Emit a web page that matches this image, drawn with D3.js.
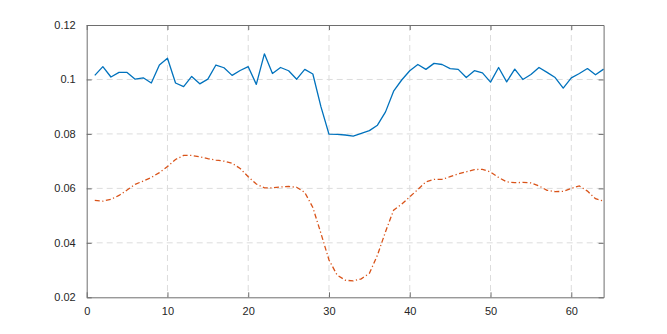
<!DOCTYPE html>
<html>
<head>
<meta charset="utf-8">
<script src="https://cdn.jsdelivr.net/npm/d3@7"></script>
<style>
  body { margin: 0; background: #fff; }
  text { font-family: "Liberation Sans", Arial, sans-serif; font-size: 11px; fill: #262626; }
</style>
</head>
<body>
<svg id="chart" width="667" height="334"></svg>
<script>
// sample index 1..64
var xs = d3.range(1, 65);

var blueVals = [
  0.1015, 0.1047, 0.1009, 0.1026, 0.1026, 0.1001, 0.1006, 0.0987, 0.1053, 0.1078,
  0.0987, 0.0974, 0.1011, 0.0984, 0.1001, 0.1053, 0.1043, 0.1015, 0.1033, 0.1047,
  0.0982, 0.1094, 0.1022, 0.1044, 0.1032, 0.1001, 0.1037, 0.1020, 0.0900, 0.0799,
  0.0798, 0.0796, 0.0792, 0.0802, 0.0812, 0.0832, 0.0881, 0.0957, 0.0998, 0.1032,
  0.1055, 0.1037, 0.1059, 0.1055, 0.1040, 0.1037, 0.1007, 0.1032, 0.1024, 0.0990,
  0.1044, 0.0991, 0.1038, 0.1000, 0.1018, 0.1044, 0.1026, 0.1007, 0.0968, 0.1006,
  0.1022, 0.1040, 0.1017, 0.1038
];

var orangeVals = [
  0.0556, 0.0553, 0.0560, 0.0574, 0.0594, 0.0615, 0.0627, 0.0640, 0.0658, 0.0680,
  0.0706, 0.0721, 0.0721, 0.0716, 0.0709, 0.0704, 0.0700, 0.0692, 0.0673, 0.0643,
  0.0616, 0.0602, 0.0602, 0.0605, 0.0607, 0.0604, 0.0585, 0.0530, 0.0435, 0.0337,
  0.0282, 0.0263, 0.0260, 0.0268, 0.0288, 0.0355, 0.0441, 0.0520, 0.0542, 0.0569,
  0.0596, 0.0624, 0.0633, 0.0633, 0.0643, 0.0653, 0.0661, 0.0669, 0.0670, 0.0660,
  0.0640, 0.0624, 0.0621, 0.0622, 0.0620, 0.0609, 0.0593, 0.0588, 0.0589, 0.0600,
  0.0609, 0.0590, 0.0562, 0.0553
];

var xTicks = [0, 10, 20, 30, 40, 50, 60];
var yTicks = [0.02, 0.04, 0.06, 0.08, 0.1, 0.12];

var svg = d3.select("#chart");
var mLeft = 86.7, mRight = 603.6, mTop = 25, mBottom = 297.3;

var x = d3.scaleLinear().domain([0, 64]).range([mLeft, mRight]);
var y = d3.scaleLinear().domain([0.02, 0.12]).range([mBottom, mTop]);

// grid
var grid = svg.append("g").attr("class", "grid");
grid.selectAll("line.gx")
  .data(xTicks.filter(function (d) { return d > 0; }))
  .enter().append("line")
  .attr("x1", function (d) { return x(d); })
  .attr("x2", function (d) { return x(d); })
  .attr("y1", mTop).attr("y2", mBottom)
  .attr("stroke", "#dcdcdc").attr("stroke-width", 1)
  .attr("stroke-dasharray", "6,4");
grid.selectAll("line.gy")
  .data(yTicks.filter(function (d) { return d > 0.02 && d < 0.12; }))
  .enter().append("line")
  .attr("y1", function (d) { return y(d); })
  .attr("y2", function (d) { return y(d); })
  .attr("x1", mLeft).attr("x2", mRight)
  .attr("stroke", "#dcdcdc").attr("stroke-width", 1)
  .attr("stroke-dasharray", "6,4");

// lines
var line = d3.line()
  .x(function (d, i) { return x(xs[i]); })
  .y(function (d) { return y(d); });

svg.append("path")
  .datum(blueVals)
  .attr("d", line)
  .attr("fill", "none")
  .attr("stroke", "#0072BD")
  .attr("stroke-width", 1.3)
  .attr("stroke-linejoin", "round");

svg.append("path")
  .datum(orangeVals)
  .attr("d", line)
  .attr("fill", "none")
  .attr("stroke", "#D95319")
  .attr("stroke-width", 1.3)
  .attr("stroke-dasharray", "5,2.5,1.2,2.5");

// axes (MATLAB style, ticks inside, boxed)
var axisColor = "#6e6e6e";
var xAxis = d3.axisBottom(x).tickValues(xTicks).tickSizeInner(-5).tickSizeOuter(0).tickPadding(10);
var yAxis = d3.axisLeft(y).tickValues(yTicks).tickSizeInner(-5).tickSizeOuter(0).tickPadding(11)
  .tickFormat(function (d) { return String(+d.toFixed(2)); });

var gx = svg.append("g").attr("transform", "translate(0," + mBottom + ")").call(xAxis);
var gy = svg.append("g").attr("transform", "translate(" + mLeft + ",0)").call(yAxis);
var gxt = svg.append("g").attr("transform", "translate(0," + mTop + ")")
  .call(d3.axisTop(x).tickValues(xTicks).tickSizeInner(-5).tickSizeOuter(0).tickFormat(""));
var gyr = svg.append("g").attr("transform", "translate(" + mRight + ",0)")
  .call(d3.axisRight(y).tickValues(yTicks).tickSizeInner(-5).tickSizeOuter(0).tickFormat(""));

[gx, gy, gxt, gyr].forEach(function (g) {
  g.select(".domain").attr("stroke", axisColor);
  g.selectAll(".tick line").attr("stroke", axisColor);
  g.selectAll(".tick text")
    .attr("fill", "#262626")
    .style("font-family", "'Liberation Sans', Arial, sans-serif")
    .style("font-size", "11px");
});
</script>
</body>
</html>
